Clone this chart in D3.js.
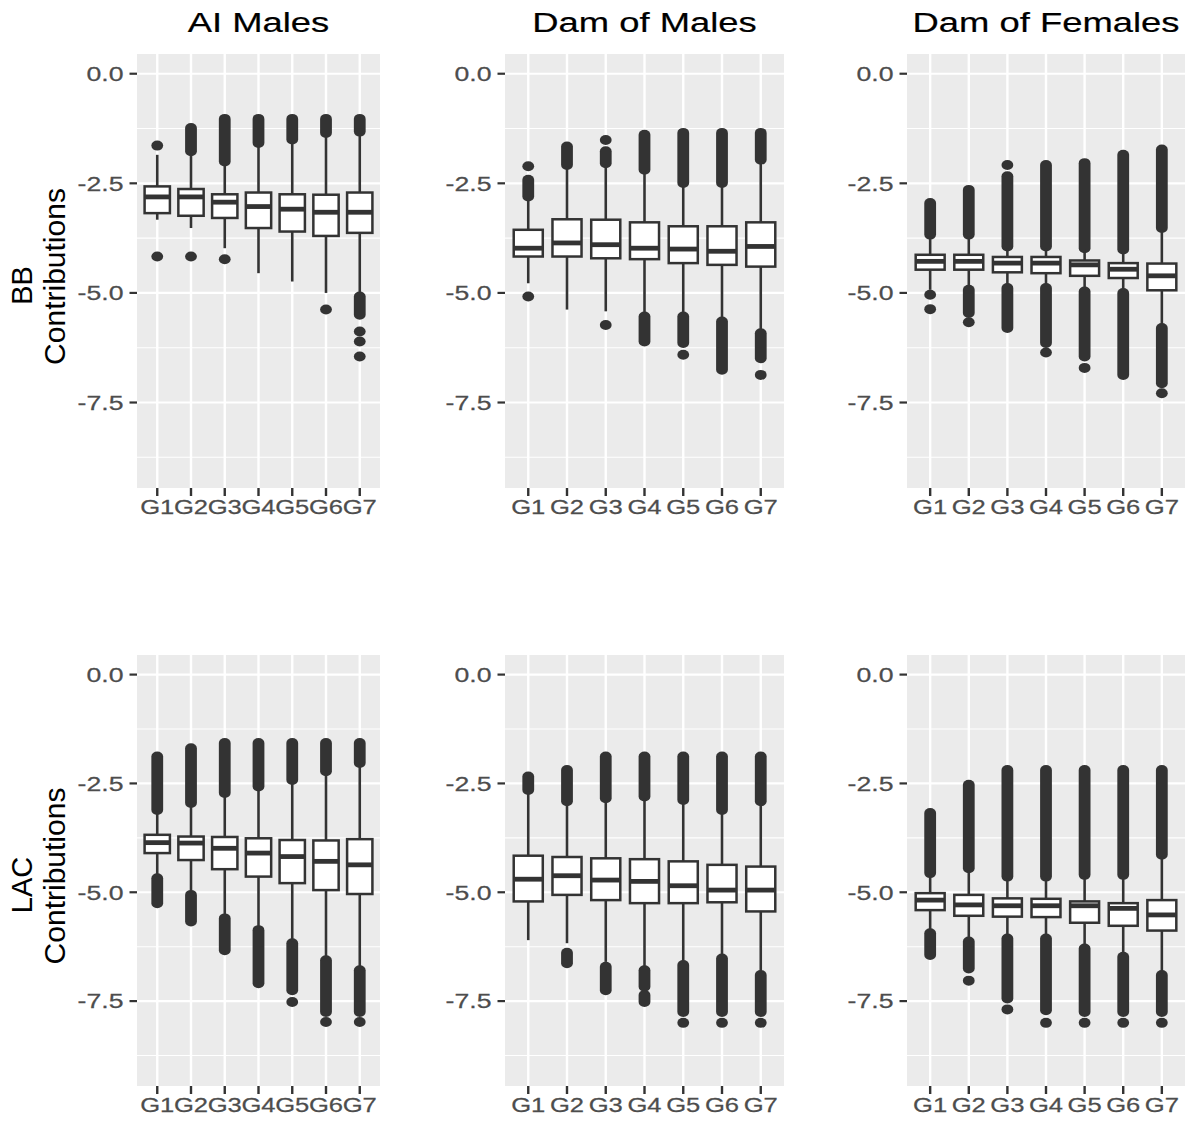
<!DOCTYPE html>
<html><head><meta charset="utf-8">
<script src="https://cdn.jsdelivr.net/npm/d3@7"></script>
<style>html,body{margin:0;padding:0;background:#fff;} svg{display:block;font-family:"Liberation Sans",Arial,sans-serif;}</style>
</head><body>
<script>
// ---------- data ----------
const groups = ["G1","G2","G3","G4","G5","G6","G7"];
const colTitles = ["AI Males","Dam of Males","Dam of Females"];
const rowTitles = ["BB","LAC"];
const yTicks = [0, -2.5, -5, -7.5];
const yTickLabels = ["0.0","-2.5","-5.0","-7.5"];
const yMinor = [-1.25, -3.75, -6.25, -8.75];
const yDomain = [-9.45, 0.45];

// box stats per group: [whiskerLow, Q1, median, Q3, whiskerHigh]
const bbAIMalesBox = [[-3.33,-3.18,-2.81,-2.57,-1.85],[-3.52,-3.24,-2.81,-2.63,-1.85],[-3.98,-3.29,-2.93,-2.75,-2.06],[-4.55,-3.52,-3.03,-2.71,-1.62],[-4.74,-3.60,-3.09,-2.75,-1.55],[-5.00,-3.70,-3.16,-2.76,-1.40],[-5.00,-3.63,-3.16,-2.71,-1.36]];
const bbDamMalesBox = [[-4.78,-4.17,-3.98,-3.56,-2.84],[-5.38,-4.17,-3.86,-3.32,-2.11],[-5.42,-4.21,-3.90,-3.33,-2.08],[-5.46,-4.23,-3.98,-3.39,-2.23],[-5.46,-4.32,-4.00,-3.48,-2.53],[-5.57,-4.36,-4.05,-3.48,-2.53],[-5.84,-4.40,-3.94,-3.39,-2.00]];
const bbDamFemalesBox = [[-4.93,-4.47,-4.28,-4.13,-3.71],[-4.85,-4.47,-4.28,-4.13,-3.71],[-4.85,-4.53,-4.32,-4.18,-3.98],[-4.85,-4.55,-4.32,-4.18,-3.98],[-4.93,-4.61,-4.36,-4.26,-4.02],[-4.96,-4.66,-4.46,-4.32,-4.05],[-5.76,-4.94,-4.61,-4.33,-3.56]];
const lacAIMalesBox = [[-4.64,-4.10,-3.86,-3.68,-3.15],[-5.02,-4.26,-3.87,-3.72,-2.99],[-5.56,-4.47,-3.99,-3.73,-2.76],[-5.83,-4.64,-4.10,-3.76,-2.61],[-6.13,-4.79,-4.18,-3.80,-2.46],[-6.52,-4.95,-4.29,-3.81,-2.26],[-6.75,-5.04,-4.37,-3.78,-2.07]];
const lacDamMalesBox = [[-6.10,-5.21,-4.70,-4.16,-2.69],[-6.17,-5.06,-4.62,-4.19,-2.95],[-6.60,-5.18,-4.72,-4.22,-2.88],[-6.70,-5.25,-4.75,-4.24,-2.84],[-6.60,-5.25,-4.85,-4.29,-2.92],[-6.46,-5.23,-4.95,-4.37,-3.15],[-6.85,-5.44,-4.95,-4.41,-2.95]];
const lacDamFemalesBox = [[-5.90,-5.41,-5.18,-5.02,-4.60],[-6.09,-5.54,-5.29,-5.06,-4.49],[-6.02,-5.56,-5.31,-5.14,-4.68],[-6.02,-5.57,-5.31,-5.15,-4.68],[-6.25,-5.70,-5.31,-5.21,-4.64],[-6.44,-5.77,-5.37,-5.25,-4.64],[-6.86,-5.88,-5.52,-5.18,-4.18]];

// dense outlier runs: [group, low, high]
const bbAIMalesBands = [["G2",-1.77,-1.24],["G3",-2.00,-1.03],["G4",-1.58,-1.03],["G5",-1.50,-1.03],["G6",-1.35,-1.03],["G7",-1.32,-1.03],["G7",-5.50,-5.08]];
const bbDamMalesBands = [["G1",-2.80,-2.42],["G2",-2.08,-1.66],["G3",-2.04,-1.77],["G4",-2.19,-1.39],["G4",-6.11,-5.54],["G5",-2.49,-1.35],["G5",-6.14,-5.54],["G6",-2.49,-1.35],["G6",-6.75,-5.65],["G7",-1.96,-1.35],["G7",-6.49,-5.92]];
const bbDamFemalesBands = [["G1",-3.67,-2.95],["G2",-3.67,-2.65],["G2",-5.46,-4.93],["G3",-3.94,-2.34],["G3",-5.80,-4.89],["G4",-3.94,-2.08],["G4",-6.14,-4.89],["G5",-3.98,-2.04],["G5",-6.45,-4.97],["G6",-4.01,-1.85],["G6",-6.87,-5.00],["G7",-3.52,-1.73],["G7",-7.06,-5.80]];
const lacAIMalesBands = [["G1",-3.11,-1.88],["G1",-5.25,-4.68],["G2",-2.95,-1.69],["G2",-5.67,-5.06],["G3",-2.72,-1.57],["G3",-6.33,-5.60],["G4",-2.57,-1.57],["G4",-7.09,-5.87],["G5",-2.42,-1.57],["G5",-7.25,-6.17],["G6",-2.22,-1.57],["G6",-7.75,-6.56],["G7",-2.03,-1.57],["G7",-7.75,-6.79]];
const lacDamMalesBands = [["G1",-2.65,-2.34],["G2",-2.91,-2.19],["G2",-6.63,-6.39],["G3",-2.84,-1.88],["G3",-7.25,-6.71],["G4",-2.80,-1.88],["G4",-7.17,-6.79],["G4",-7.52,-7.36],["G5",-2.88,-1.88],["G5",-7.75,-6.67],["G6",-3.11,-1.88],["G6",-7.75,-6.52],["G7",-2.91,-1.88],["G7",-7.75,-6.90]];
const lacDamFemalesBands = [["G1",-4.56,-3.18],["G1",-6.44,-5.94],["G2",-4.45,-2.53],["G2",-6.75,-6.13],["G3",-4.64,-2.19],["G3",-7.44,-6.06],["G4",-4.64,-2.19],["G4",-7.71,-6.06],["G5",-4.60,-2.19],["G5",-7.75,-6.29],["G6",-4.60,-2.19],["G6",-7.75,-6.48],["G7",-4.14,-2.19],["G7",-7.75,-6.90]];

// isolated outliers: [group, value]
const bbAIMalesPoints = [["G1",-1.64],["G1",-4.17],["G2",-4.17],["G3",-4.23],["G6",-5.38],["G7",-5.88],["G7",-6.11],["G7",-6.45]];
const bbDamMalesPoints = [["G1",-2.11],["G1",-5.08],["G3",-1.51],["G3",-5.73],["G5",-6.41],["G7",-6.87]];
const bbDamFemalesPoints = [["G1",-5.04],["G1",-5.37],["G2",-5.67],["G3",-2.08],["G4",-6.36],["G5",-6.71],["G7",-7.29]];
const lacAIMalesPoints = [["G5",-7.52],["G6",-7.98],["G7",-7.98]];
const lacDamMalesPoints = [["G5",-8.0],["G6",-8.0],["G7",-8.0]];
const lacDamFemalesPoints = [["G2",-7.03],["G3",-7.69],["G4",-8.0],["G5",-8.0],["G6",-8.0],["G7",-8.0]];

// ---------- layout ----------
const W = 1192, H = 1146;
const SX = 1.3; // horizontal stretch of the original image
const colX = [[137,380],[505,784],[907,1185]];
const rowY = [[54,488],[655,1086]];
const panels = [
  {r:0,c:0,box:bbAIMalesBox,bands:bbAIMalesBands,pts:bbAIMalesPoints},
  {r:0,c:1,box:bbDamMalesBox,bands:bbDamMalesBands,pts:bbDamMalesPoints},
  {r:0,c:2,box:bbDamFemalesBox,bands:bbDamFemalesBands,pts:bbDamFemalesPoints},
  {r:1,c:0,box:lacAIMalesBox,bands:lacAIMalesBands,pts:lacAIMalesPoints},
  {r:1,c:1,box:lacDamMalesBox,bands:lacDamMalesBands,pts:lacDamMalesPoints},
  {r:1,c:2,box:lacDamFemalesBox,bands:lacDamFemalesBands,pts:lacDamFemalesPoints}
];
const dark = "#333333", grey = "#4D4D4D";
const RX = 5.9, RY = 5.0;

const svg = d3.select("body").append("svg").attr("width",W).attr("height",H);
svg.append("rect").attr("width",W).attr("height",H).attr("fill","#fff");

panels.forEach(p => {
  const [x0,x1] = colX[p.c], [y0,y1] = rowY[p.r];
  const x = d3.scalePoint().domain(groups).range([x0,x1]).padding(0.6);
  const y = d3.scaleLinear().domain(yDomain).range([y1,y0]);
  const step = x.step();
  const bw = 0.75*step;
  const g = svg.append("g");
  g.append("rect").attr("x",x0).attr("y",y0).attr("width",x1-x0).attr("height",y1-y0).attr("fill","#EBEBEB");
  g.selectAll(".minor").data(yMinor).join("line")
    .attr("x1",x0).attr("x2",x1).attr("y1",d=>y(d)).attr("y2",d=>y(d))
    .attr("stroke","#fff").attr("stroke-width",1.1);
  g.selectAll(".major").data(yTicks).join("line")
    .attr("x1",x0).attr("x2",x1).attr("y1",d=>y(d)).attr("y2",d=>y(d))
    .attr("stroke","#fff").attr("stroke-width",2.2);
  g.selectAll(".vg").data(groups).join("line")
    .attr("x1",d=>x(d)).attr("x2",d=>x(d)).attr("y1",y0).attr("y2",y1)
    .attr("stroke","#fff").attr("stroke-width",2.4);

  // y axis ticks & labels
  yTicks.forEach((t,i) => {
    g.append("line").attr("x1",x0-7.5).attr("x2",x0).attr("y1",y(t)).attr("y2",y(t)).attr("stroke",dark).attr("stroke-width",2.2);
    g.append("text").attr("transform",`translate(${x0-13.5},${y(t)}) scale(${SX},1)`)
      .attr("text-anchor","end").attr("dy","0.36em").attr("font-size",20.5).attr("fill",grey)
      .attr("stroke",grey).attr("stroke-width",0.25).text(yTickLabels[i]);
  });
  // x axis ticks & labels
  groups.forEach(gname => {
    g.append("line").attr("x1",x(gname)).attr("x2",x(gname)).attr("y1",y1).attr("y2",y1+8).attr("stroke",dark).attr("stroke-width",2.4);
    g.append("text").attr("transform",`translate(${x(gname)},${y1+25.5}) scale(${SX*0.96},1)`)
      .attr("text-anchor","middle").attr("font-size",20.5).attr("fill",grey)
      .attr("stroke",grey).attr("stroke-width",0.25).text(gname);
  });

  // outliers
  g.selectAll(".band").data(p.bands).join("rect")
    .attr("x",d=>x(d[0])-RX).attr("width",2*RX)
    .attr("y",d=>y(d[2])-RY).attr("height",d=>y(d[1])-y(d[2])+2*RY)
    .attr("rx",RX).attr("ry",RY).attr("fill",dark);
  g.selectAll(".pt").data(p.pts).join("ellipse")
    .attr("cx",d=>x(d[0])).attr("cy",d=>y(d[1])).attr("rx",RX).attr("ry",RY).attr("fill",dark);

  // boxes
  const bx = g.selectAll(".bx").data(p.box).join("g");
  bx.append("line").attr("x1",(d,i)=>x(groups[i])).attr("x2",(d,i)=>x(groups[i]))
    .attr("y1",d=>y(d[4])).attr("y2",d=>y(d[3])).attr("stroke",dark).attr("stroke-width",2.6);
  bx.append("line").attr("x1",(d,i)=>x(groups[i])).attr("x2",(d,i)=>x(groups[i]))
    .attr("y1",d=>y(d[1])).attr("y2",d=>y(d[0])).attr("stroke",dark).attr("stroke-width",2.6);
  bx.append("rect").attr("x",(d,i)=>x(groups[i])-bw/2).attr("width",bw)
    .attr("y",d=>y(d[3])).attr("height",d=>y(d[1])-y(d[3]))
    .attr("fill","#fff").attr("stroke",dark).attr("stroke-width",2.5);
  bx.append("line").attr("x1",(d,i)=>x(groups[i])-bw/2).attr("x2",(d,i)=>x(groups[i])+bw/2)
    .attr("y1",d=>y(d[2])).attr("y2",d=>y(d[2])).attr("stroke",dark).attr("stroke-width",4.8);

  // column titles (top row only)
  if (p.r === 0) {
    svg.append("text").attr("transform",`translate(${(x0+x1)/2},32) scale(${SX},1)`)
      .attr("text-anchor","middle").attr("font-size",28).attr("fill","#000")
      .attr("stroke","#000").attr("stroke-width",0.2).text(colTitles[p.c]);
  }
  // row titles (first column only)
  if (p.c === 0) {
    const cy = (y0+y1)/2;
    svg.append("text").attr("transform",`translate(31.5,${cy+14.5}) rotate(-90)`)
      .attr("text-anchor","middle").attr("font-size",29).attr("fill","#000").text(rowTitles[p.r]);
    svg.append("text").attr("transform",`translate(65,${cy+5.5}) rotate(-90)`)
      .attr("text-anchor","middle").attr("font-size",30).attr("fill","#000").text("Contributions");
  }
});
</script>
</body></html>
